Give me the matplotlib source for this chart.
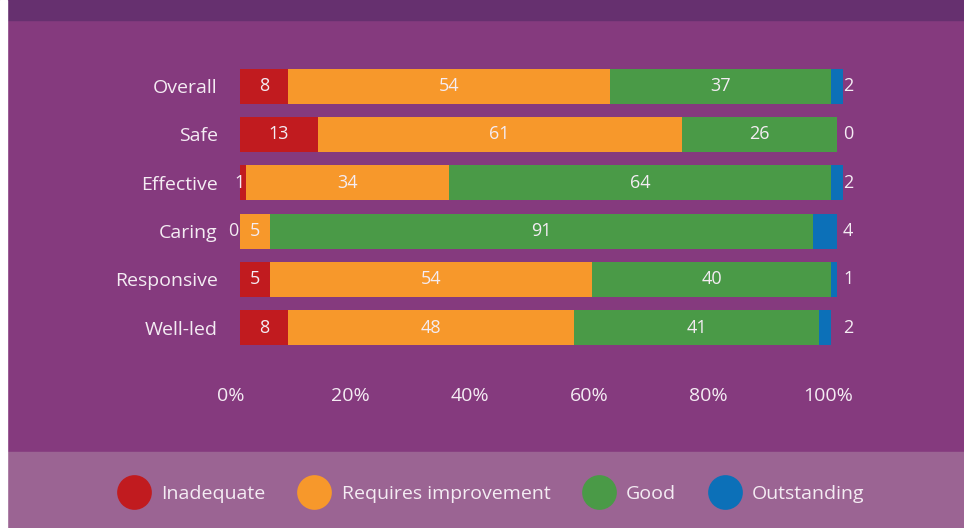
"""
Stacked percentage bars of ratings by key question
"""

# Imports
import matplotlib
matplotlib.use('Agg')
import matplotlib.pyplot as plt
import matplotlib.transforms as mtransforms
from matplotlib.patches import Rectangle
from matplotlib.lines import Line2D

# Data
questions = ['Overall', 'Safe', 'Effective', 'Caring', 'Responsive', 'Well-led']
inadequate = [8, 13, 1, 0, 5, 8]
requires_improvement = [54, 61, 34, 5, 54, 48]
good = [37, 26, 64, 91, 40, 41]
outstanding = [2, 0, 2, 4, 1, 2]
rating_names = ['Inadequate', 'Requires improvement', 'Good', 'Outstanding']
tick_values = [0, 20, 40, 60, 80, 100]
tick_labels = ['0%', '20%', '40%', '60%', '80%', '100%']

# Colours
colors = ['#C11B1F', '#F7982B', '#4A9A47', '#0C70B8']
purple = '#853A7E'
header = '#66306F'
strip = '#9B6493'
txt = '#F4ECF3'

plt.rcParams['font.family'] = ['Open Sans', 'DejaVu Sans']

W, H = 964, 528
fig = plt.figure(figsize=(W / 100, H / 100), dpi=100, facecolor=purple)

# Background bands (figure pixels -> fraction)
def band(x0, y0, x1, y1, color):
    fig.patches.append(Rectangle((x0 / W, 1 - y1 / H), (x1 - x0) / W, (y1 - y0) / H,
                                 transform=fig.transFigure, color=color, zorder=0))

band(0, 0, W, 20, header)
band(0, 452, W, H, strip)
band(0, 0, 7, H, 'white')

# Main axes
ax = fig.add_axes([240 / W, 1 - 352 / H, 597 / W, 290 / H])
ax.set_facecolor('none')
ax.set_xlim(0, 100)
ax.set_ylim(len(questions) - 0.5, -0.5)

series = [inadequate, requires_improvement, good, outstanding]
ypos = range(len(questions))
left = [0] * len(questions)
for k, vals in enumerate(series):
    ax.barh(ypos, vals, left=left, height=0.72, color=colors[k], clip_on=False)
    for i, v in enumerate(vals):
        if k == 3:
            ax.text(101.0, i, str(v), ha='left', va='center', color=txt, fontsize=13)
        elif v < 3:
            ax.text(left[i] + v - 0.3, i, str(v), ha='right', va='center', color=txt, fontsize=13)
        else:
            ax.text(left[i] + v / 2, i, str(v), ha='center', va='center', color=txt, fontsize=13)
    left = [a + b for a, b in zip(left, vals)]

ax.set_yticks(list(ypos))
ax.set_yticklabels(questions, color=txt, fontsize=14)
ax.set_xticks(tick_values)
ax.set_xticklabels(tick_labels, color=txt, fontsize=14)
ax.tick_params(length=0)
ax.tick_params(axis='y', pad=16)
ax.tick_params(axis='x', pad=25)
shift = mtransforms.ScaledTranslation(-0.09, 0, fig.dpi_scale_trans)
for lab in ax.get_xticklabels():
    lab.set_transform(lab.get_transform() + shift)
for s in ax.spines.values():
    s.set_visible(False)

# Legend
handles = [Line2D([], [], marker='o', linestyle='none', markersize=25,
                  markerfacecolor=c, markeredgewidth=0) for c in colors]
leg = fig.legend(handles, rating_names, loc='center', bbox_to_anchor=(0.508, 1 - 494 / H),
                 ncol=4, frameon=False, fontsize=14, handletextpad=0.4,
                 columnspacing=1.5, labelcolor=txt)

fig.savefig('out.png', dpi=100, facecolor=purple)
